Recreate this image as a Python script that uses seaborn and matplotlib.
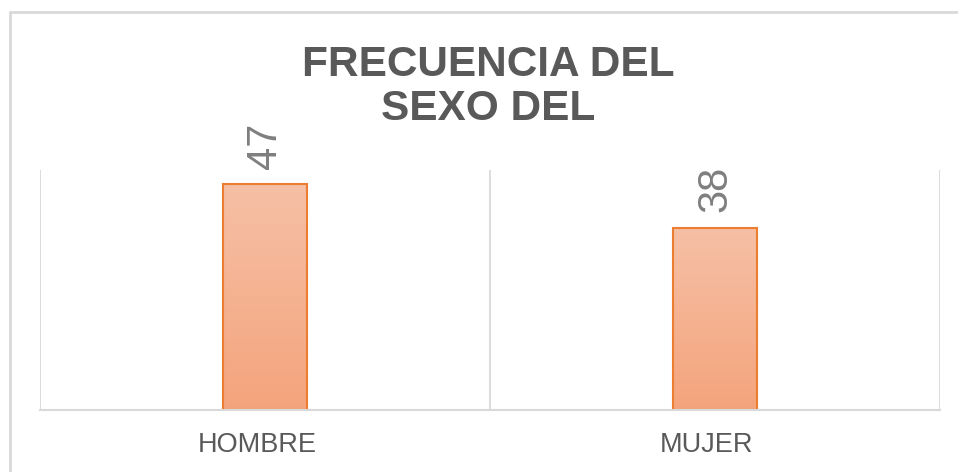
import numpy as np
import pandas as pd
import matplotlib.pyplot as plt
import seaborn as sns
from matplotlib.lines import Line2D
from matplotlib.colors import LinearSegmentedColormap
from matplotlib.transforms import ScaledTranslation

# data
categories = ['HOMBRE', 'MUJER']
counts = [47, 38]
title_lines = ['FRECUENCIA DEL', 'SEXO DEL']

df = pd.DataFrame({'sexo': categories, 'frecuencia': counts})

sns.set_style('white')
plt.rcParams['font.family'] = ['Liberation Sans', 'DejaVu Sans']

fig = plt.figure(figsize=(9.58, 4.72), dpi=100)
ax = fig.add_axes([40 / 958, 62 / 472, 900 / 958, 240 / 472])

sns.barplot(data=df, x='sexo', y='frecuencia', ax=ax, width=0.187,
            color='#F5B08F', edgecolor='#ED7D31', linewidth=1.5)

# gradient fill for bars (light on top, darker at bottom)
cmap = LinearSegmentedColormap.from_list('grad', ['#F4A47C', '#F6C0A6'])
grad = np.linspace(0, 1, 256).reshape(-1, 1)
for p in ax.patches:
    x0, y0 = p.get_x(), p.get_y()
    w, h = p.get_width(), p.get_height()
    im = ax.imshow(grad, cmap=cmap, aspect='auto', origin='lower',
                   extent=[x0, x0 + w, y0, y0 + h], zorder=p.get_zorder() - 0.1)
    im.set_clip_path(p)
    p.set_facecolor('none')

ax.bar_label(ax.containers[0], labels=[str(v) for v in counts], rotation=90,
             padding=11, fontsize=30, color='#7F7F7F')

ax.set_xlim(-0.5, 1.5)
ax.set_ylim(0, 50)
for xv in [-0.5, 0.5, 1.5]:
    ax.axvline(xv, color='#D9D9D9', linewidth=1.3, zorder=0)
sns.despine(ax=ax, left=True, top=True, right=True)
ax.spines['bottom'].set_color('#D9D9D9')
ax.spines['bottom'].set_linewidth(1.5)
ax.set_yticks([])
ax.set_xlabel('')
ax.set_ylabel('')
ax.tick_params(axis='x', length=0, pad=16, labelsize=19.5, labelcolor='#595959')
shift = ScaledTranslation(-8 / 100, 0, fig.dpi_scale_trans)
for lbl in ax.get_xticklabels():
    lbl.set_transform(lbl.get_transform() + shift)

# title, two centred lines
for line, base in zip(title_lines, [76, 120]):
    fig.text(488 / 958, 1 - base / 472, line, ha='center', va='baseline',
             fontsize=30.5, fontweight='bold', color='#595959')

# outer chart border
fig.add_artist(Line2D([10 / 958, 1.0], [1 - 12 / 472, 1 - 12 / 472],
                      color='#D9D9D9', linewidth=2, transform=fig.transFigure))
fig.add_artist(Line2D([10 / 958, 10 / 958], [0, 1 - 12 / 472],
                      color='#D9D9D9', linewidth=2, transform=fig.transFigure))

fig.savefig('out.png', dpi=100, facecolor='white')
